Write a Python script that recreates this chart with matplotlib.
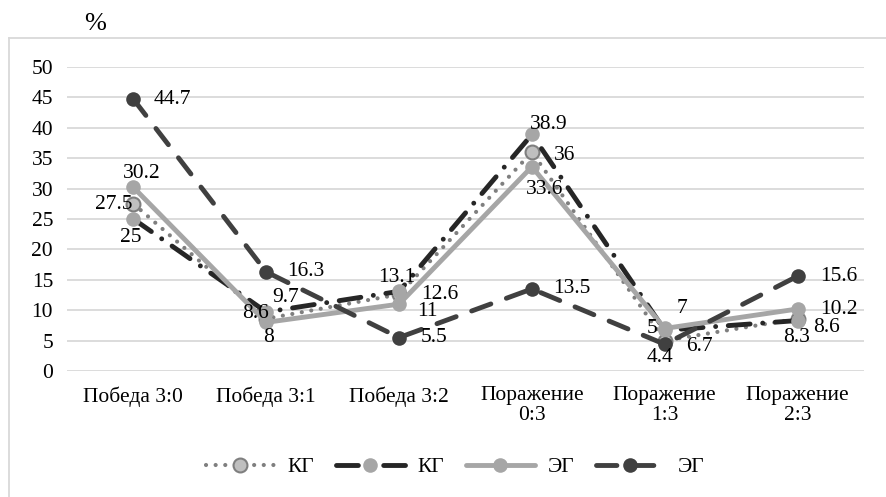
import matplotlib
matplotlib.use("Agg")
import matplotlib.pyplot as plt
from matplotlib.lines import Line2D

plt.rcParams['font.family'] = ['Liberation Serif', 'DejaVu Serif']

categories = ["Победа 3:0", "Победа 3:1", "Победа 3:2",
              "Поражение\n0:3", "Поражение\n1:3", "Поражение\n2:3"]

kg_dotted = [27.5, 8.6, 12.6, 36, 5, 8.6]
kg_dashdot = [25, 9.7, 13.1, 38.9, 6.7, 8.3]
eg_solid = [30.2, 8, 11, 33.6, 7, 10.2]
eg_dashed = [44.7, 16.3, 5.5, 13.5, 4.4, 15.6]

series_names = ["КГ", "КГ", "ЭГ", "ЭГ"]
y_ticks = [0, 5, 10, 15, 20, 25, 30, 35, 40, 45, 50]

# label offsets (pixels) for each value label, per series
off_dotted = [(-20, -1), (-11, 5), (41, 0), (33, -3), (-13, 12), (29, -9)]
off_dashdot = [(-3, -18), (19, 15), (-2, 14), (17, 10), (35, -16), (-1, -17)]
off_solid = [(8, 14), (2, -15), (28, -7), (13, -23), (17, 20), (41, -1)]
off_dashed = [(39, 0), (40, 0), (35, 0), (40, 0), (-5, -13), (41, 0)]

FS = 15.5

W, H = 887, 497
fig = plt.figure(figsize=(W / 100, H / 100), dpi=100)
ax = fig.add_axes([67 / W, 1 - 371 / H, (864 - 67) / W, (371 - 67) / H])

x = list(range(len(categories)))

styles = [
    dict(data=kg_dotted, offs=off_dotted, color="#7f7f7f", ls=(0, (0.01, 2.3)), lw=3.0,
         mfc="#bfbfbf", mec="#7f7f7f", mew=1.5, ms=10),
    dict(data=kg_dashdot, offs=off_dashdot, color="#262626", ls=(0, (4.5, 2.6, 0.01, 2.6)), lw=3.5,
         mfc="#a6a6a6", mec="#a6a6a6", mew=0, ms=10.5),
    dict(data=eg_solid, offs=off_solid, color="#a6a6a6", ls="-", lw=3.5,
         mfc="#a6a6a6", mec="#a6a6a6", mew=0, ms=10.5),
    dict(data=eg_dashed, offs=off_dashed, color="#404040", ls=(0, (4.2, 3.4)), lw=3.5,
         mfc="#404040", mec="#404040", mew=0, ms=10.5),
]

handles = []
for i, s in enumerate(styles):
    line, = ax.plot(x, s["data"], color=s["color"], linestyle=s["ls"], linewidth=s["lw"],
                    dash_capstyle="round", solid_capstyle="round",
                    marker="o", markersize=s["ms"], markerfacecolor=s["mfc"],
                    markeredgecolor=s["mec"], markeredgewidth=s["mew"],
                    clip_on=False, zorder=3 + i, label=series_names[i])
    handles.append(line)
    for xi, v, (dx, dy) in zip(x, s["data"], s["offs"]):
        ax.annotate(f"{v:g}", (xi, v), xytext=(dx, dy), textcoords="offset pixels",
                    ha="center", va="center", fontsize=FS, color="#000000", zorder=10)

ax.set_xlim(-0.5, len(categories) - 0.5)
ax.set_ylim(0, 50)
ax.set_yticks(y_ticks)
ax.set_yticklabels([str(t) for t in y_ticks])
ax.set_xticks(x)
ax.set_xticklabels(categories, linespacing=1.05)
ax.tick_params(axis="both", length=0, labelsize=FS, colors="#000000")
ax.tick_params(axis="y", pad=10)
ax.tick_params(axis="x", pad=11)
ax.grid(axis="y", color="#d9d9d9", linewidth=1.3)
ax.set_axisbelow(True)
for sp in ax.spines.values():
    sp.set_visible(False)

fig.text(95 / W, 1 - 24 / H, "%", fontsize=19, ha="center", va="center")

# outer chart frame (left and top edges visible)
fig.add_artist(Line2D([9 / W, 9 / W], [0, 1 - 38 / H], color="#d9d9d9", lw=1.3,
                      transform=fig.transFigure))
fig.add_artist(Line2D([9 / W, 1], [1 - 38 / H, 1 - 38 / H], color="#d9d9d9", lw=1.3,
                      transform=fig.transFigure))

fig.legend(handles=handles, loc="center", bbox_to_anchor=(455 / W, 1 - 467 / H),
           ncol=4, frameon=False, fontsize=FS, handlelength=3.2, columnspacing=1.0,
           handletextpad=0.6)

fig.savefig("out.png", dpi=100)
